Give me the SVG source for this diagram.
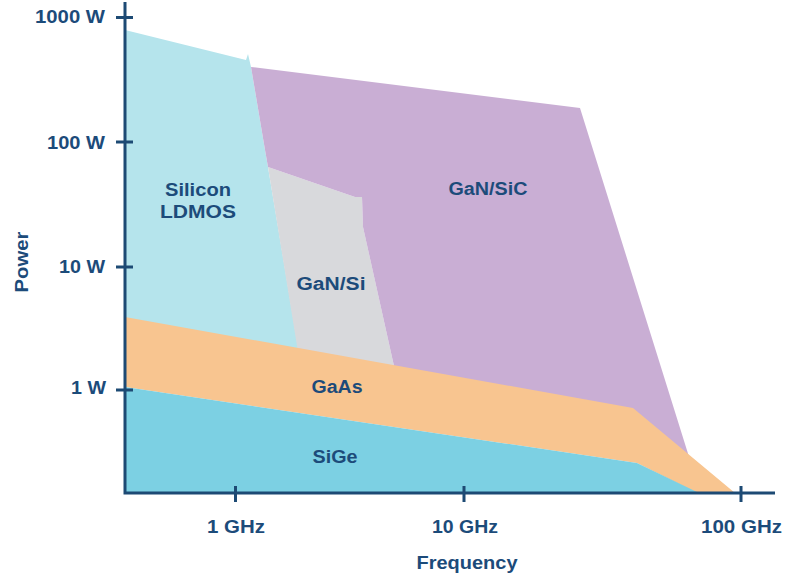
<svg xmlns="http://www.w3.org/2000/svg" width="785" height="581" viewBox="0 0 785 581">
<style>
.t{font-family:"Liberation Sans",Arial,sans-serif;font-weight:bold;fill:#1c4b7a;font-size:18px}
.m{text-anchor:middle}
.e{text-anchor:end}
.ax{stroke:#1d4a74;stroke-width:3;fill:none}
</style>
<rect width="785" height="581" fill="#ffffff"/>
<g id="silicon-ldmos">
<polygon points="125,30 246,60 248,54 251,67 265,150 268,167 298,347 300,360 125,330" fill="#b5e4ec"/>
<text class="t m" x="198" y="196" textLength="66" lengthAdjust="spacingAndGlyphs">Silicon</text>
<text class="t m" x="198" y="218" textLength="76" lengthAdjust="spacingAndGlyphs">LDMOS</text>
</g>
<g id="gan-si">
<polygon points="268,167 355,197 362,197 363,227 394,366 298,352" fill="#d8d9dc"/>
<text class="t m" x="331" y="290" textLength="69" lengthAdjust="spacingAndGlyphs">GaN/Si</text>
</g>
<g id="gan-sic">
<polygon points="251,67 580,108 690,460 600,420 394,366 363,227 362,197 355,197 268,167 265,150" fill="#c9aed4"/>
<text class="t m" x="488" y="195" textLength="79" lengthAdjust="spacingAndGlyphs">GaN/SiC</text>
</g>
<g id="gaas">
<polygon points="125,317 633,408 735,493 697,493 637,463 125,387" fill="#f8c590"/>
<text class="t m" x="337" y="393" textLength="51" lengthAdjust="spacingAndGlyphs">GaAs</text>
</g>
<g id="sige">
<polygon points="125,387 637,463 699,493 125,493" fill="#7cd0e3"/>
<text class="t m" x="335" y="463" textLength="45" lengthAdjust="spacingAndGlyphs">SiGe</text>
</g>
<g id="axes">
<path class="ax" d="M125,2 V493 H775"/>
<path class="ax" d="M116,17.5 H133 M116,142 H133 M116,267 H133 M116,390 H133"/>
<path class="ax" d="M235.5,486 V502 M464,486 V502 M741,486 V502"/>
<text class="t e" x="105" y="23" textLength="70" lengthAdjust="spacingAndGlyphs">1000 W</text>
<text class="t e" x="105" y="149" textLength="58" lengthAdjust="spacingAndGlyphs">100 W</text>
<text class="t e" x="105" y="273" textLength="46" lengthAdjust="spacingAndGlyphs">10 W</text>
<text class="t e" x="106" y="394" textLength="35" lengthAdjust="spacingAndGlyphs">1 W</text>
<text class="t m" x="236" y="533" textLength="58" lengthAdjust="spacingAndGlyphs">1 GHz</text>
<text class="t m" x="465" y="533" textLength="66" lengthAdjust="spacingAndGlyphs">10 GHz</text>
<text class="t m" x="741.5" y="533" textLength="81" lengthAdjust="spacingAndGlyphs">100 GHz</text>
<text class="t m" x="467" y="569" textLength="101" lengthAdjust="spacingAndGlyphs">Frequency</text>
<text class="t m" transform="translate(28,262) rotate(-90)" textLength="61" lengthAdjust="spacingAndGlyphs">Power</text>
</g>
</svg>
